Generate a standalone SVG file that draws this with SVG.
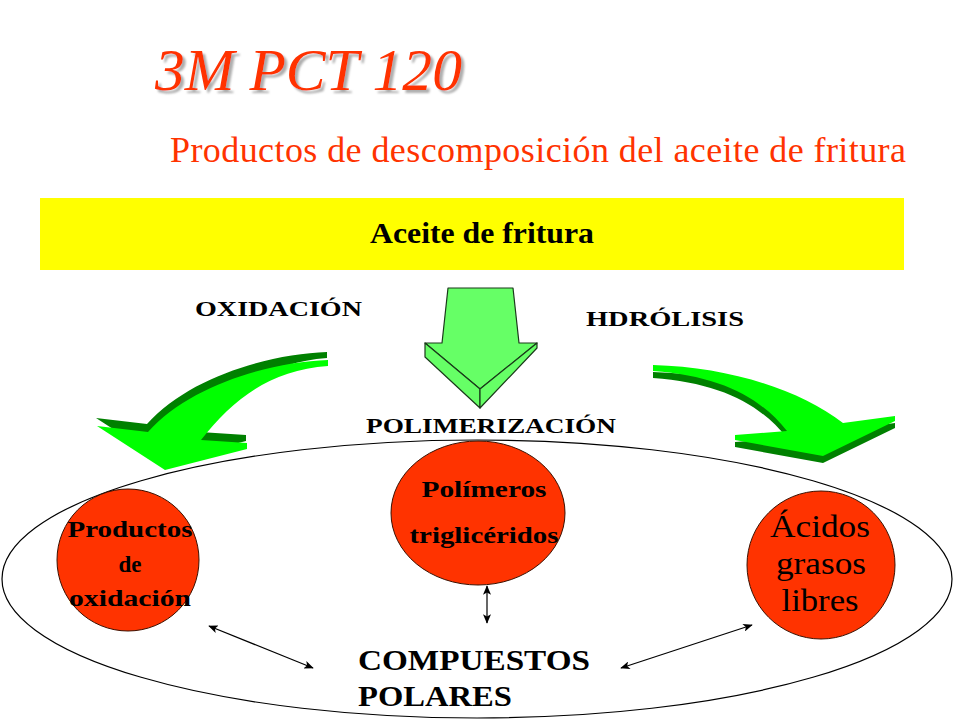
<svg xmlns="http://www.w3.org/2000/svg" width="960" height="720" viewBox="0 0 960 720">
<defs>
<marker id="ah" viewBox="0 0 12 10" refX="11" refY="5" markerWidth="10" markerHeight="8" orient="auto-start-reverse" markerUnits="userSpaceOnUse">
<path d="M0,0 L12,5 L0,10 L3,5 Z" fill="#000"/>
</marker>
<filter id="shadow" x="-5%" y="-20%" width="115%" height="150%">
<feDropShadow dx="3" dy="3" stdDeviation="0.8" flood-color="#999" flood-opacity="0.8"/>
</filter>
<style>
.ser{font-family:"Liberation Serif","DejaVu Serif",serif}
.b{font-weight:bold}
.red{fill:#FF3300}
.circ{fill:#FF3300;stroke:#3a1000;stroke-width:1}
.lab{font-size:23px;font-weight:bold;fill:#000}
.dark{fill:#008000}
.bright{fill:#00FF00}
.con{stroke:#000;stroke-width:1.2;fill:none;marker-start:url(#ah);marker-end:url(#ah)}
</style>
</defs>
<rect width="960" height="720" fill="#fff"/>

<g id="title">
<text x="155" y="90" class="ser red" font-style="italic" font-size="60" textLength="307" lengthAdjust="spacingAndGlyphs" filter="url(#shadow)">3M PCT 120</text>
</g>
<g id="subtitle">
<text x="170" y="162" class="ser red" font-size="36" textLength="736" lengthAdjust="spacing">Productos de descomposición del aceite de fritura</text>
</g>

<g id="ellipse-boundary">
<ellipse cx="477" cy="579" rx="475" ry="139" fill="none" stroke="#000" stroke-width="1.2"/>
</g>

<g id="aceite">
<rect x="40" y="198" width="864" height="72" fill="#FFFF00"/>
<text x="482" y="243" class="ser b" font-size="29" text-anchor="middle" textLength="224" lengthAdjust="spacingAndGlyphs">Aceite de fritura</text>
</g>

<g id="arrow-oxidacion">
<path class="dark" transform="translate(-1,-8)" d="M328,360 C270,362 190,385 148,432 L97,426 L165,470 L247,449 L247,443 L201,440 C232,400 270,370 328,366 Z"/>
<path class="bright" d="M328,360 C270,362 190,385 148,432 L97,426 L165,470 L247,449 L247,443 L201,440 C232,400 270,370 328,366 Z"/>
<text x="195" y="316" class="ser b" font-size="22" textLength="167" lengthAdjust="spacingAndGlyphs">OXIDACIÓN</text>
</g>

<g id="arrow-polimerizacion">
<polygon points="448,288 513,288 519,343 537,343 480,389 425,343 442,343" fill="#66FF66" stroke="#1a3a1a" stroke-width="1.2" stroke-linejoin="round"/>
<polygon points="425,343 480,389 480,408 425,357" fill="#66FF66" stroke="#1a3a1a" stroke-width="1.2" stroke-linejoin="round"/>
<polygon points="537,343 537,348 480,408 480,389" fill="#66FF66" stroke="#1a3a1a" stroke-width="1.2" stroke-linejoin="round"/>
<text x="366" y="433" class="ser b" font-size="22" textLength="250" lengthAdjust="spacingAndGlyphs">POLIMERIZACIÓN</text>
</g>

<g id="arrow-hidrolisis">
<path class="dark" transform="translate(0,7)" d="M653,365 C730,367 800,390 843,423 L895,416 L895,421 L823,456 L735,440 L735,435 L787,431 C760,397 720,376 653,371 Z"/>
<path class="bright" d="M653,365 C730,367 800,390 843,423 L895,416 L895,421 L823,456 L735,440 L735,435 L787,431 C760,397 720,376 653,371 Z"/>
<text x="586" y="326" class="ser b" font-size="22" textLength="158" lengthAdjust="spacingAndGlyphs">HDRÓLISIS</text>
</g>

<g id="productos-oxidacion">
<circle cx="128" cy="560" r="71" class="circ"/>
<text x="130" y="537" class="ser lab" text-anchor="middle" textLength="125" lengthAdjust="spacingAndGlyphs">Productos</text>
<text x="130" y="572" class="ser lab" text-anchor="middle">de</text>
<text x="130" y="606" class="ser lab" text-anchor="middle" textLength="122" lengthAdjust="spacingAndGlyphs">oxidación</text>
</g>

<g id="polimeros">
<ellipse cx="478" cy="513" rx="87" ry="72" class="circ"/>
<text x="484" y="497" class="ser lab" text-anchor="middle" font-size="22" textLength="125" lengthAdjust="spacingAndGlyphs">Polímeros</text>
<text x="484" y="543" class="ser lab" text-anchor="middle" font-size="22" textLength="149" lengthAdjust="spacingAndGlyphs">triglicéridos</text>
</g>

<g id="acidos">
<circle cx="821" cy="565" r="74" class="circ"/>
<text x="820" y="537" class="ser" font-size="31" text-anchor="middle" textLength="100" lengthAdjust="spacingAndGlyphs">Ácidos</text>
<text x="821" y="574" class="ser" font-size="31" text-anchor="middle" textLength="90" lengthAdjust="spacingAndGlyphs">grasos</text>
<text x="820" y="611" class="ser" font-size="31" text-anchor="middle" textLength="77" lengthAdjust="spacingAndGlyphs">libres</text>
</g>

<g id="compuestos">
<text x="358" y="670" class="ser b" font-size="29" textLength="232" lengthAdjust="spacingAndGlyphs">COMPUESTOS</text>
<text x="358" y="706" class="ser b" font-size="29" textLength="154" lengthAdjust="spacingAndGlyphs">POLARES</text>
</g>

<g id="connectors">
<line x1="209" y1="626" x2="313" y2="668" class="con"/>
<line x1="487" y1="586" x2="487" y2="623" class="con"/>
<line x1="752" y1="625" x2="621" y2="668" class="con"/>
</g>
</svg>
